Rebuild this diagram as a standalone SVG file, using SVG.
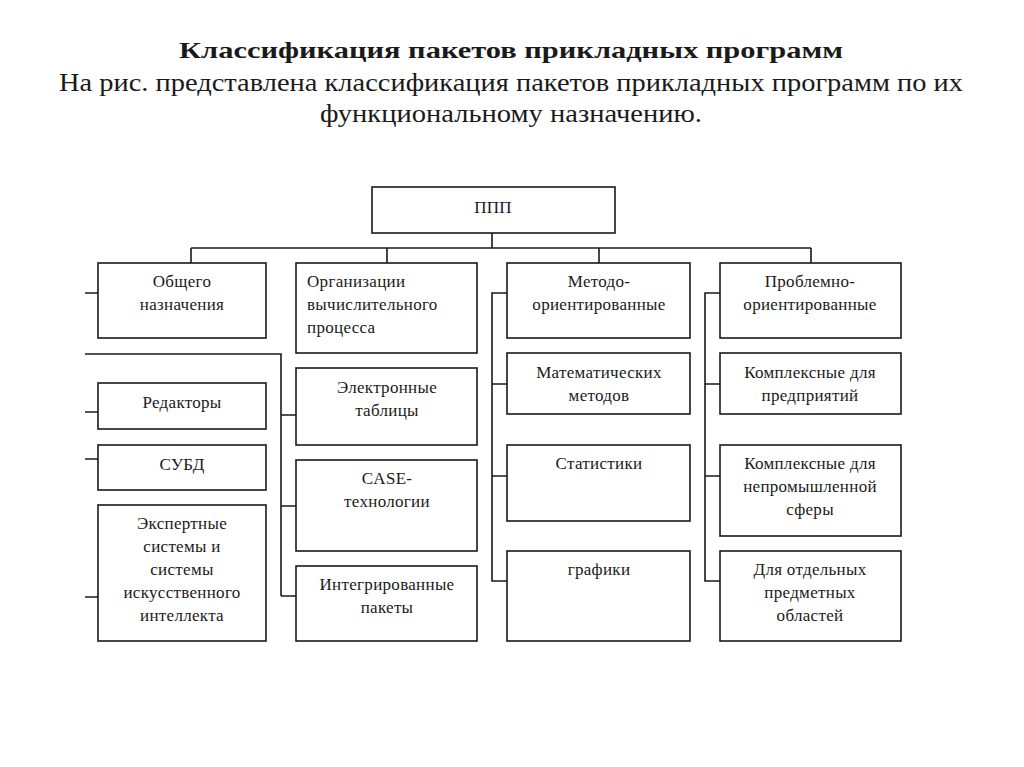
<svg xmlns="http://www.w3.org/2000/svg" width="1024" height="767" viewBox="0 0 1024 767">
<style>
.box{fill:#fff;stroke:#1a1a1a;stroke-width:1.6}
.ln{fill:none;stroke:#1a1a1a;stroke-width:1.6}
text{font-family:"Liberation Serif","DejaVu Serif",serif;fill:#1a1a1a}
.t{font-size:17px;text-anchor:middle;letter-spacing:0.3px}
.tl{font-size:17px;letter-spacing:0.3px}
.title{font-size:23px;font-weight:bold;text-anchor:middle}
.sub{font-size:24.5px;text-anchor:middle}
</style>
<rect width="1024" height="767" fill="#fff"/>
<g id="heading">
<text class="title" x="511" y="58" textLength="664" lengthAdjust="spacingAndGlyphs">Классификация пакетов прикладных программ</text>
<text class="sub" x="511" y="91" textLength="904" lengthAdjust="spacingAndGlyphs">На рис. представлена классификация пакетов прикладных программ по их</text>
<text class="sub" x="511" y="122" textLength="382" lengthAdjust="spacingAndGlyphs">функциональному назначению.</text>
</g>
<g id="connectors">
<path class="ln" d="M492,233 V248 M191,248 H811 M191,248 V263 M387,248 V263 M599,248 V263 M811,248 V263"/>
<path class="ln" d="M85,293 H98 M85,412 H98 M85,459 H98 M85,597 H103"/>
<path class="ln" d="M85,354 H281 V596 M281,415 H296 M281,506 H296 M281,596 H296"/>
<path class="ln" d="M507,293 H492 V581 H507 M492,384 H507 M492,476 H507"/>
<path class="ln" d="M720,293 H705 V581 H720 M705,384 H720 M705,476 H720"/>
</g>
<g id="ppp"><rect class="box" x="372" y="187" width="243" height="46"/><text class="t" x="493" y="213">ППП</text></g>
<g id="obshchego"><rect class="box" x="98" y="263" width="168" height="75"/><text class="t" x="182" y="287">Общего</text><text class="t" x="182" y="310">назначения</text></g>
<g id="redaktory"><rect class="box" x="98" y="383" width="168" height="46"/><text class="t" x="182" y="408">Редакторы</text></g>
<g id="subd"><rect class="box" x="98" y="445" width="168" height="45"/><text class="t" x="182" y="470">СУБД</text></g>
<g id="ekspertnye"><rect class="box" x="98" y="505" width="168" height="136"/>
<text class="t" x="182" y="529">Экспертные</text><text class="t" x="182" y="552">системы и</text><text class="t" x="182" y="575">системы</text><text class="t" x="182" y="598">искусственного</text><text class="t" x="182" y="621">интеллекта</text></g>
<g id="organizatsii"><rect class="box" x="296" y="263" width="181" height="90"/>
<text class="tl" x="307" y="287">Организации</text><text class="tl" x="307" y="310">вычислительного</text><text class="tl" x="307" y="333">процесса</text></g>
<g id="tablitsy"><rect class="box" x="296" y="368" width="181" height="77"/><text class="t" x="387" y="393">Электронные</text><text class="t" x="387" y="416">таблицы</text></g>
<g id="case"><rect class="box" x="296" y="460" width="181" height="91"/><text class="t" x="387" y="484">CASE-</text><text class="t" x="387" y="507">технологии</text></g>
<g id="integrirovannye"><rect class="box" x="296" y="566" width="181" height="75"/><text class="t" x="387" y="590">Интегрированные</text><text class="t" x="387" y="613">пакеты</text></g>
<g id="metodo"><rect class="box" x="507" y="263" width="183" height="75"/><text class="t" x="599" y="287">Методо-</text><text class="t" x="599" y="310">ориентированные</text></g>
<g id="matematicheskih"><rect class="box" x="507" y="353" width="183" height="61"/><text class="t" x="599" y="378">Математических</text><text class="t" x="599" y="401">методов</text></g>
<g id="statistiki"><rect class="box" x="507" y="445" width="183" height="76"/><text class="t" x="599" y="469">Статистики</text></g>
<g id="grafiki"><rect class="box" x="507" y="551" width="183" height="90"/><text class="t" x="599" y="575">графики</text></g>
<g id="problemno"><rect class="box" x="720" y="263" width="181" height="75"/><text class="t" x="810" y="287">Проблемно-</text><text class="t" x="810" y="310">ориентированные</text></g>
<g id="kompleksnye1"><rect class="box" x="720" y="353" width="181" height="61"/><text class="t" x="810" y="378">Комплексные для</text><text class="t" x="810" y="401">предприятий</text></g>
<g id="kompleksnye2"><rect class="box" x="720" y="445" width="181" height="91"/><text class="t" x="810" y="469">Комплексные для</text><text class="t" x="810" y="492">непромышленной</text><text class="t" x="810" y="515">сферы</text></g>
<g id="otdelnyh"><rect class="box" x="720" y="551" width="181" height="90"/><text class="t" x="810" y="575">Для отдельных</text><text class="t" x="810" y="598">предметных</text><text class="t" x="810" y="621">областей</text></g>
</svg>
